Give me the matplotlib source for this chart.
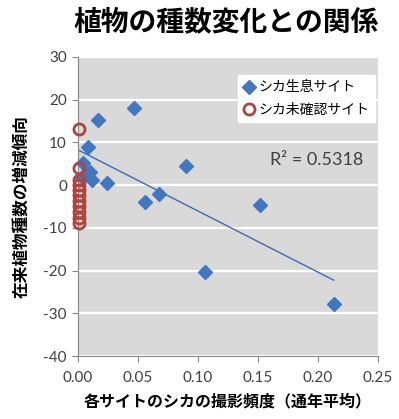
import numpy as np
import matplotlib
matplotlib.use("Agg")
import matplotlib.pyplot as plt

# blue diamonds: sites where deer live
deer_x = [0.047, 0.017, 0.008, 0.0045, 0.010, 0.0115, 0.003, 0.024, 0.056, 0.0675, 0.090, 0.152, 0.106, 0.213]
deer_y = [18.0, 15.2, 8.9, 5.1, 3.1, 1.1, 2.0, 0.5, -3.9, -2.0, 4.6, -4.6, -20.2, -27.9]

# red circles: sites without confirmed deer
none_x = [0.0005] * 11
none_y = [13.2, 4.0, 1.3, 0.0, -1.2, -2.4, -3.6, -4.8, -6.3, -7.6, -8.9]

xticks = [0.00, 0.05, 0.10, 0.15, 0.20, 0.25]
yticks = [30, 20, 10, 0, -10, -20, -30, -40]

jp = ['Noto Sans CJK JP', 'DejaVu Sans']
num = ['Lato', 'DejaVu Sans']

fig = plt.figure(figsize=(3.99, 4.19), dpi=100)
ax = fig.add_axes([0.1955, 0.150, 0.752, 0.714])
ax.set_facecolor('#d9d9d9')

ax.set_xlim(0, 0.25)
ax.set_ylim(-40, 30)
ax.set_yticks(yticks)
ax.set_xticks(xticks)
ax.set_xticklabels([f'{t:.2f}' for t in xticks], family=num, fontsize=11, color='#404040')
ax.set_yticklabels([str(t) for t in yticks], family=num, fontsize=11, color='#404040')
ax.grid(axis='y', color='white', linewidth=1.6)
ax.set_axisbelow(True)
for s in ['top', 'right']:
    ax.spines[s].set_visible(False)
for s in ['left', 'bottom']:
    ax.spines[s].set_color('#868686')
ax.tick_params(axis='both', direction='out', length=4, color='#868686')
ax.tick_params(axis='x', pad=7)
ax.tick_params(axis='y', pad=4)

# linear trend of the deer sites
k, b = np.polyfit(deer_x, deer_y, 1)
tx = np.array([0.0, max(deer_x)])
ax.plot(tx, k * tx + b, color='#3a6bb5', linewidth=1.0, zorder=2)

ax.plot(deer_x, deer_y, 'D', color='#4077c0', markersize=7.5, linestyle='none',
        label='シカ生息サイト', zorder=3, clip_on=False)
ax.plot(none_x, none_y, 'o', markerfacecolor='none', markeredgecolor='#b0433e',
        markeredgewidth=2.0, markersize=8, linestyle='none',
        label='シカ未確認サイト', zorder=4, clip_on=False)

leg = ax.legend(loc='upper right', bbox_to_anchor=(0.99, 0.94), borderaxespad=0,
                prop={'family': jp, 'size': 10}, frameon=True, fancybox=False,
                handlelength=0.8, handletextpad=0.3, labelspacing=0.6, borderpad=0.4)
leg.get_frame().set_facecolor('white')
leg.get_frame().set_edgecolor('white')
leg.get_frame().set_alpha(1)

ax.text(0.95, 0.655, 'R² = 0.5318', transform=ax.transAxes, ha='right', va='center',
        family=num, fontsize=13, color='#404040')

fig.text(0.567, 0.947, '植物の種数変化との関係', ha='center', va='center',
         family=jp, fontsize=20, fontweight='bold')
ax.set_xlabel('各サイトのシカの撮影頻度（通年平均）', family=jp, fontsize=11.5,
              fontweight='bold', labelpad=6)
ax.set_ylabel('在来植物種数の増減傾向', family=jp, fontsize=12,
              fontweight='bold', labelpad=9)

fig.savefig('out.png', dpi=100)
